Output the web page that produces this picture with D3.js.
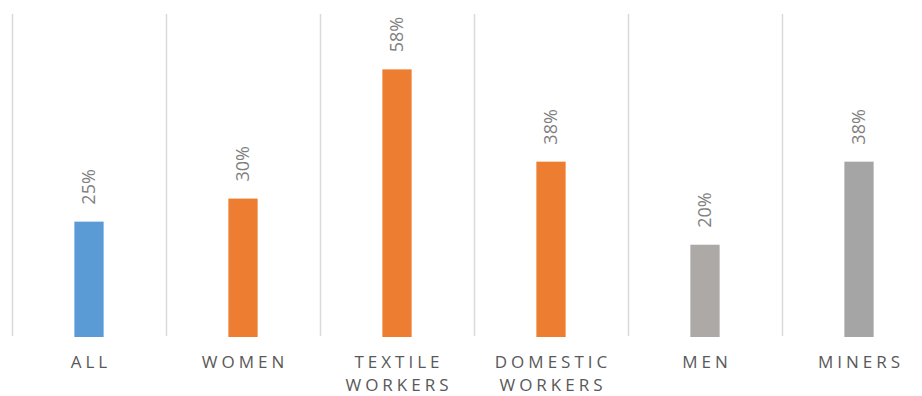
<!DOCTYPE html>
<html>
<head>
<meta charset="utf-8">
<script src="https://cdn.jsdelivr.net/npm/d3@7"></script>
<style>
  body { margin: 0; background: #fff; }
  svg { display: block; font-family: "Open Sans", sans-serif; }
</style>
</head>
<body>
<svg id="chart"></svg>
<script>
var categories = ['ALL', 'WOMEN', 'TEXTILE WORKERS', 'DOMESTIC WORKERS', 'MEN', 'MINERS'];
var labelLines = [['ALL'], ['WOMEN'], ['TEXTILE', 'WORKERS'], ['DOMESTIC', 'WORKERS'], ['MEN'], ['MINERS']];
var values = [25, 30, 58, 38, 20, 38];
var colors = ['#5B9BD5', '#ED7D31', '#ED7D31', '#ED7D31', '#ADA9A7', '#A5A5A5'];
var yMax = 70;

var width = 922,
  height = 396;

var svg = d3.select('#chart')
  .attr('width', width)
  .attr('height', height);

var x = d3.scaleBand()
  .domain(categories)
  .range([12, 12 + 154 * categories.length])
  .paddingInner(0.81)
  .paddingOuter(0.405);

var band = d3.scaleBand()
  .domain(categories)
  .range(x.range());

var y = d3.scaleLinear()
  .domain([0, yMax])
  .range([337, 14]);

// vertical separators between categories
svg.append('g')
  .selectAll('line')
  .data(categories)
  .enter().append('line')
  .attr('x1', function(d) { return band(d) + 0.5; })
  .attr('x2', function(d) { return band(d) + 0.5; })
  .attr('y1', y(yMax))
  .attr('y2', y(0) - 1)
  .attr('stroke', '#d9d9d9')
  .attr('stroke-width', 1.5);

svg.append('g')
  .selectAll('rect')
  .data(categories)
  .enter().append('rect')
  .attr('x', function(d) { return x(d); })
  .attr('width', x.bandwidth())
  .attr('y', function(d, i) { return y(values[i]); })
  .attr('height', function(d, i) { return y(0) - y(values[i]); })
  .attr('fill', function(d, i) { return colors[i]; });

// value labels, rotated
svg.append('g')
  .selectAll('text')
  .data(categories)
  .enter().append('text')
  .attr('transform', function(d, i) {
    var cx = x(d) + x.bandwidth() / 2;
    return 'translate(' + cx + ',' + (y(values[i]) - 17) + ')rotate(-90)';
  })
  .attr('dy', '0.35em')
  .attr('text-anchor', 'start')
  .attr('fill', '#7f7f7f')
  .attr('font-size', '18px')
  .text(function(d, i) { return values[i] + '%'; });

// category labels
var cat = svg.append('g')
  .selectAll('text')
  .data(categories)
  .enter().append('text')
  .attr('x', function(d) { return x(d) + x.bandwidth() / 2 + 2; })
  .attr('y', 368)
  .attr('text-anchor', 'middle')
  .attr('fill', '#595959')
  .attr('font-size', '17px')
  .attr('letter-spacing', '4px');

cat.selectAll('tspan')
  .data(function(d, i) { return labelLines[i]; })
  .enter().append('tspan')
  .attr('x', function() { return d3.select(this.parentNode).attr('x'); })
  .attr('dy', function(d, i) { return i === 0 ? 0 : 23; })
  .text(function(d) { return d; });
</script>
</body>
</html>
